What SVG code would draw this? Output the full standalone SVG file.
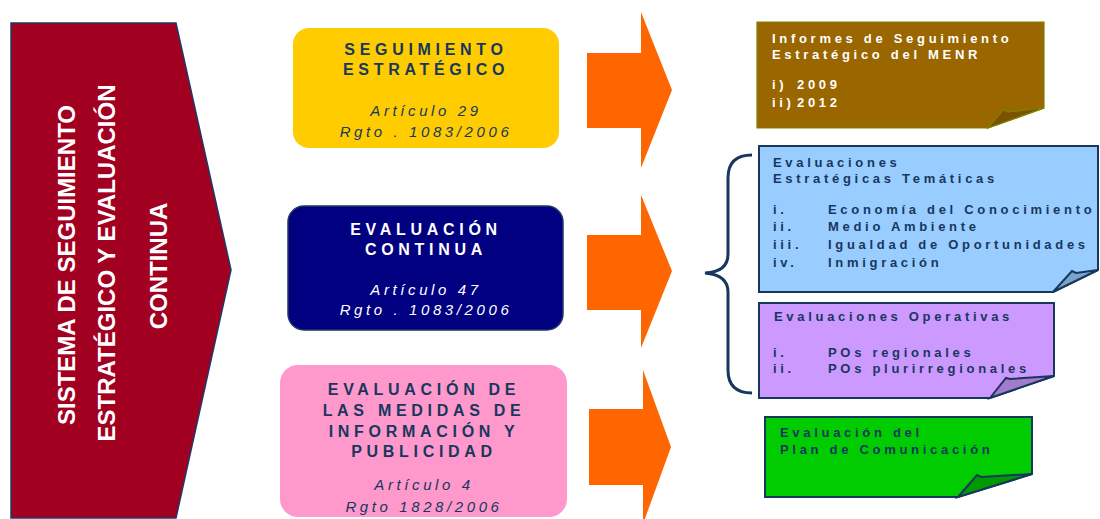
<svg xmlns="http://www.w3.org/2000/svg" width="1100" height="519" viewBox="0 0 1100 519">
<style>
text{font-family:"Liberation Sans",Arial,sans-serif}
.big{font-size:24px;font-weight:bold;fill:#fff;text-anchor:middle}
.ttl{font-size:16px;font-weight:bold;letter-spacing:4.7px;text-anchor:middle}
.art{font-size:15px;font-style:italic;letter-spacing:3.6px;text-anchor:middle}
.dk{fill:#17375E}
.wh{fill:#fff}
.nt{font-size:13px;font-weight:bold;letter-spacing:3.7px}
.arrow{fill:#FF6600}
.note{stroke:#17375E;stroke-width:2}
</style>
<g id="sistema">
<polygon points="11,23 176,23 231,270 176,518 11,518" fill="#A20021" stroke="#1F3864" stroke-width="1.5"/>
<text class="big" transform="translate(75,265) rotate(-90)">SISTEMA DE SEGUIMIENTO</text>
<text class="big" transform="translate(115,263) rotate(-90)">ESTRATÉGICO Y EVALUACIÓN</text>
<text class="big" transform="translate(167,266) rotate(-90)">CONTINUA</text>
</g>
<g id="seguimiento">
<rect x="293" y="28" width="266" height="120" rx="16" fill="#FFCC00"/>
<text class="ttl dk" x="426" y="55">SEGUIMIENTO</text>
<text class="ttl dk" x="426" y="75">ESTRATÉGICO</text>
<text class="art dk" x="426" y="116">Artículo 29</text>
<text class="art dk" x="426" y="137">Rgto . 1083/2006</text>
</g>
<g id="evaluacion-continua">
<rect x="288" y="206" width="275" height="124" rx="16" fill="#000080" stroke="#1F3864" stroke-width="1.5"/>
<text class="ttl wh" x="426" y="235">EVALUACIÓN</text>
<text class="ttl wh" x="426" y="255">CONTINUA</text>
<text class="art wh" x="426" y="295">Artículo 47</text>
<text class="art wh" x="426" y="315">Rgto . 1083/2006</text>
</g>
<g id="evaluacion-medidas">
<rect x="280" y="365" width="287" height="152" rx="18" fill="#FF99CC"/>
<text class="ttl dk" x="424" y="395">EVALUACIÓN DE</text>
<text class="ttl dk" x="424" y="416">LAS MEDIDAS DE</text>
<text class="ttl dk" x="424" y="437">INFORMACIÓN Y</text>
<text class="ttl dk" x="424" y="457">PUBLICIDAD</text>
<text class="art dk" x="424" y="490">Artículo 4</text>
<text class="art dk" x="424" y="512">Rgto 1828/2006</text>
</g>
<g id="connectors">
<polygon class="arrow" points="587,53 641,53 641,12 672,90 641,168 641,128 587,128"/>
<polygon class="arrow" points="587,235 641,235 641,195 672,271 641,348 641,310 587,310"/>
<polygon class="arrow" points="589,409 643,409 643,370 671,447 643,524 643,485 589,485"/>
<path d="M752,155 Q728,155 728,178 L728,254 Q728,272 705,273 Q728,275 728,292 L728,370 Q728,393 752,393" fill="none" stroke="#17375E" stroke-width="3"/>
</g>
<g id="informes">
<path d="M757,22 H1044 V108 L988,128 H757 Z" fill="#996600" stroke="#808000" stroke-width="1.2"/>
<path d="M988,128 L1003,110 L1008,112 L1044,108 Z" fill="#7A5200" stroke="#808000" stroke-width="1.2"/>
<text class="nt wh" x="772" y="43">Informes de Seguimiento</text>
<text class="nt wh" x="772" y="59">Estratégico del MENR</text>
<text class="nt wh" y="89"><tspan x="772">i)</tspan><tspan x="797">2009</tspan></text>
<text class="nt wh" y="107"><tspan x="772">ii)</tspan><tspan x="797">2012</tspan></text>
</g>
<g id="tematicas">
<path class="note" d="M759,146 H1098 V270 L1053,292 H759 Z" fill="#99CCFF"/>
<path class="note" d="M1053,292 L1072,271 L1076,273 L1098,270 Z" fill="#7AA3CC"/>
<text class="nt dk" x="773" y="167">Evaluaciones</text>
<text class="nt dk" x="773" y="183">Estratégicas Temáticas</text>
<text class="nt dk" y="214"><tspan x="773">i.</tspan><tspan x="828">Economía del Conocimiento</tspan></text>
<text class="nt dk" y="231"><tspan x="773">ii.</tspan><tspan x="828">Medio Ambiente</tspan></text>
<text class="nt dk" y="249"><tspan x="773">iii.</tspan><tspan x="828">Igualdad de Oportunidades</tspan></text>
<text class="nt dk" y="267"><tspan x="773">iv.</tspan><tspan x="828">Inmigración</tspan></text>
</g>
<g id="operativas">
<path class="note" d="M759,303 H1054 V376 L990,398 H759 Z" fill="#CC99FF"/>
<path class="note" d="M990,398 L1006,378 L1010,379 L1054,376 Z" fill="#A37ACC"/>
<text class="nt dk" x="774" y="321">Evaluaciones Operativas</text>
<text class="nt dk" y="357"><tspan x="773">i.</tspan><tspan x="828">POs regionales</tspan></text>
<text class="nt dk" y="373"><tspan x="773">ii.</tspan><tspan x="828">POs plurirregionales</tspan></text>
</g>
<g id="comunicacion">
<path class="note" d="M765,417 H1032 V474 L958,497 H765 Z" fill="#00CC00"/>
<path class="note" d="M958,497 L977,475 L981,477 L1032,474 Z" fill="#009900"/>
<text class="nt dk" x="780" y="437">Evaluación del</text>
<text class="nt dk" x="780" y="454">Plan de Comunicación</text>
</g>
</svg>
